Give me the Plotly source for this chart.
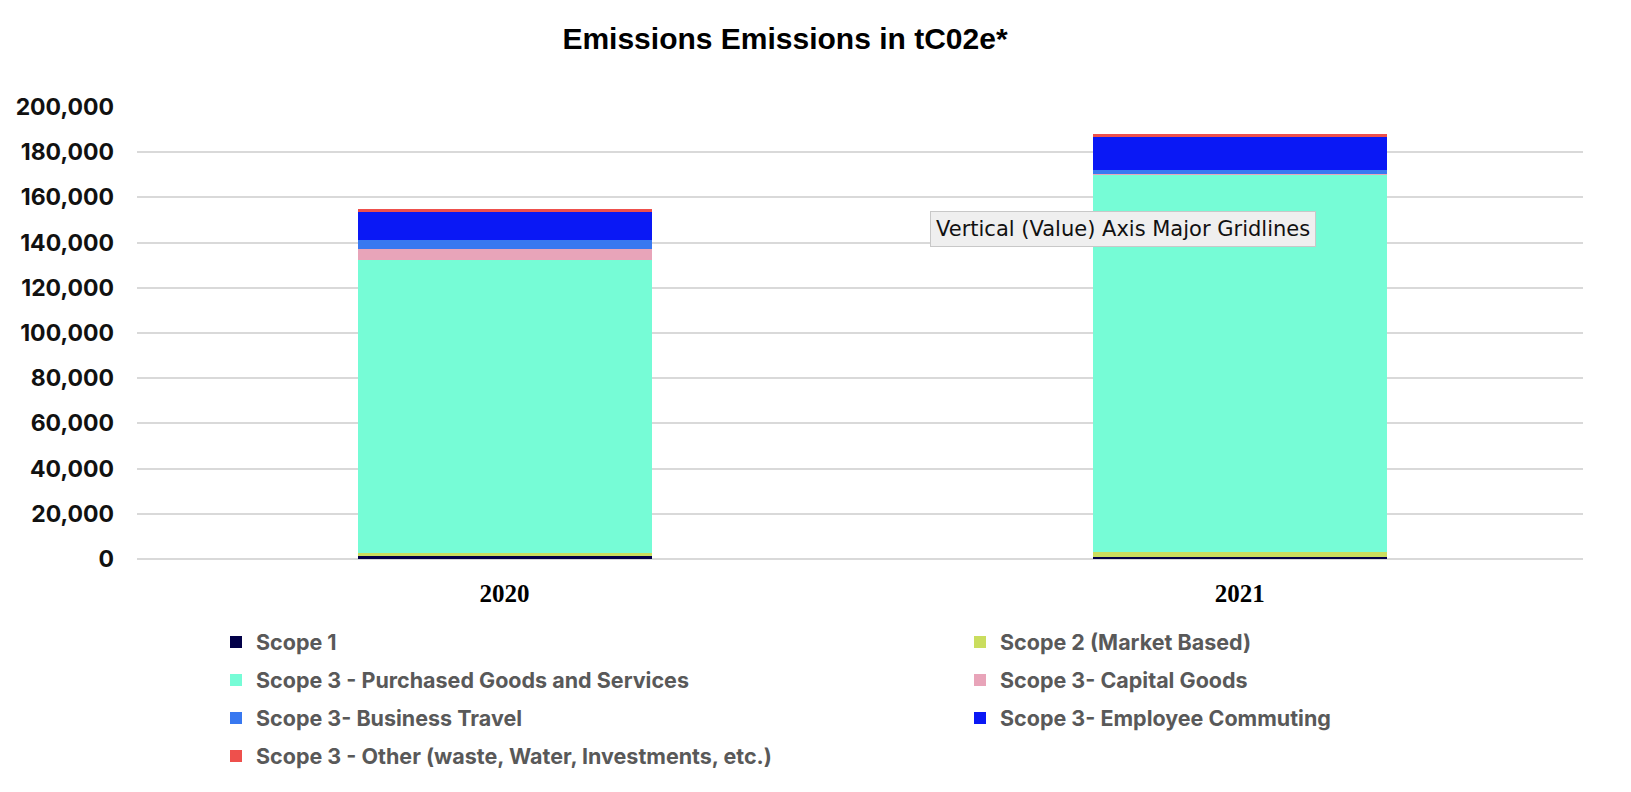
import plotly.graph_objects as go

years = ["2020", "2021"]
scope1 = [1500, 1000]
scope2 = [1300, 2200]
purchased = [129300, 166900]
capital = [4900, 400]
travel = [4000, 1800]
commuting = [12400, 14600]
other = [1300, 1300]

series_names = [
    "Scope 1",
    "Scope 2 (Market Based)",
    "Scope 3 - Purchased Goods and Services",
    "Scope 3- Capital Goods",
    "Scope 3- Business Travel",
    "Scope 3- Employee Commuting",
    "Scope 3 - Other (waste, Water, Investments, etc.)",
]
series_values = [scope1, scope2, purchased, capital, travel, commuting, other]
series_colors = ["#020048", "#CADD5E", "#76FCD6", "#E8A4B9", "#3878F0", "#0A18F5", "#EE504C"]

W, H = 1631, 792
ML, MR, MT, MB = 137, 48, 107, 233
PW = W - ML - MR
PH = H - MT - MB

def px_x(p):
    return (p - ML) / PW

def px_y(p):
    return (H - MB - p) / PH

# legend layout: two columns, row-major
col_text_x = [256, 1000]
row_y = [642, 680, 718, 756]

fig = go.Figure()
layout_legends = {}
for i, (name, vals, col) in enumerate(zip(series_names, series_values, series_colors)):
    lname = "legend" if i == 0 else f"legend{i+1}"
    fig.add_trace(go.Bar(
        x=years, y=vals, name=name,
        marker=dict(color=col, line=dict(width=0)),
        legend=lname,
        hoverinfo="skip",
    ))
    r, c = divmod(i, 2)
    layout_legends[lname] = dict(
        x=px_x(col_text_x[c] - 40), y=px_y(row_y[r]),
        xanchor="left", yanchor="middle",
        orientation="h",
        bgcolor="rgba(0,0,0,0)",
        borderwidth=0,
        itemwidth=30,
        font=dict(family="Inter", size=21.5, color="#595959", weight="bold"),
        itemclick=False, itemdoubleclick=False,
    )

fig.update_layout(
    barmode="stack",
    bargap=0.6,
    width=W, height=H,
    margin=dict(l=ML, r=MR, t=MT, b=MB, pad=0),
    paper_bgcolor="white",
    plot_bgcolor="white",
    title=dict(
        text="<b>Emissions Emissions in tC02e*</b>",
        x=785 / W, xanchor="center",
        y=1 - 38 / H, yanchor="middle",
        font=dict(family="Liberation Sans", size=30, color="#000000"),
    ),
    xaxis=dict(
        type="category",
        range=[-0.5, 1.467],
        showgrid=False,
        showline=False,
        ticks="",
        ticklabelstandoff=17,
        tickfont=dict(family="Liberation Serif", size=25, color="#000000", weight="bold"),
    ),
    yaxis=dict(
        range=[0, 200000],
        dtick=20000,
        tickformat=",",
        showgrid=True,
        gridcolor="#D9D9D9",
        gridwidth=2,
        zeroline=True,
        zerolinecolor="#D9D9D9",
        zerolinewidth=2,
        showline=False,
        ticks="",
        ticklabelstandoff=22,
        tickfont=dict(family="Inter", size=23, color="#111111", weight="bold"),
    ),
    showlegend=True,
    annotations=[dict(
        text="Vertical (Value) Axis Major Gridlines",
        xref="paper", yref="paper",
        x=px_x(930), y=px_y(211),
        xanchor="left", yanchor="top",
        showarrow=False,
        align="left",
        bgcolor="#EFEFEF",
        bordercolor="#C8C8C8",
        borderwidth=1,
        borderpad=5,
        font=dict(family="DejaVu Sans", size=21, color="#111111"),
    )],
    **layout_legends,
)

fig.write_html(
    "out.html",
    config={"displayModeBar": False},
    post_script="document.body.style.margin='0';document.body.style.overflow='hidden';",
)
